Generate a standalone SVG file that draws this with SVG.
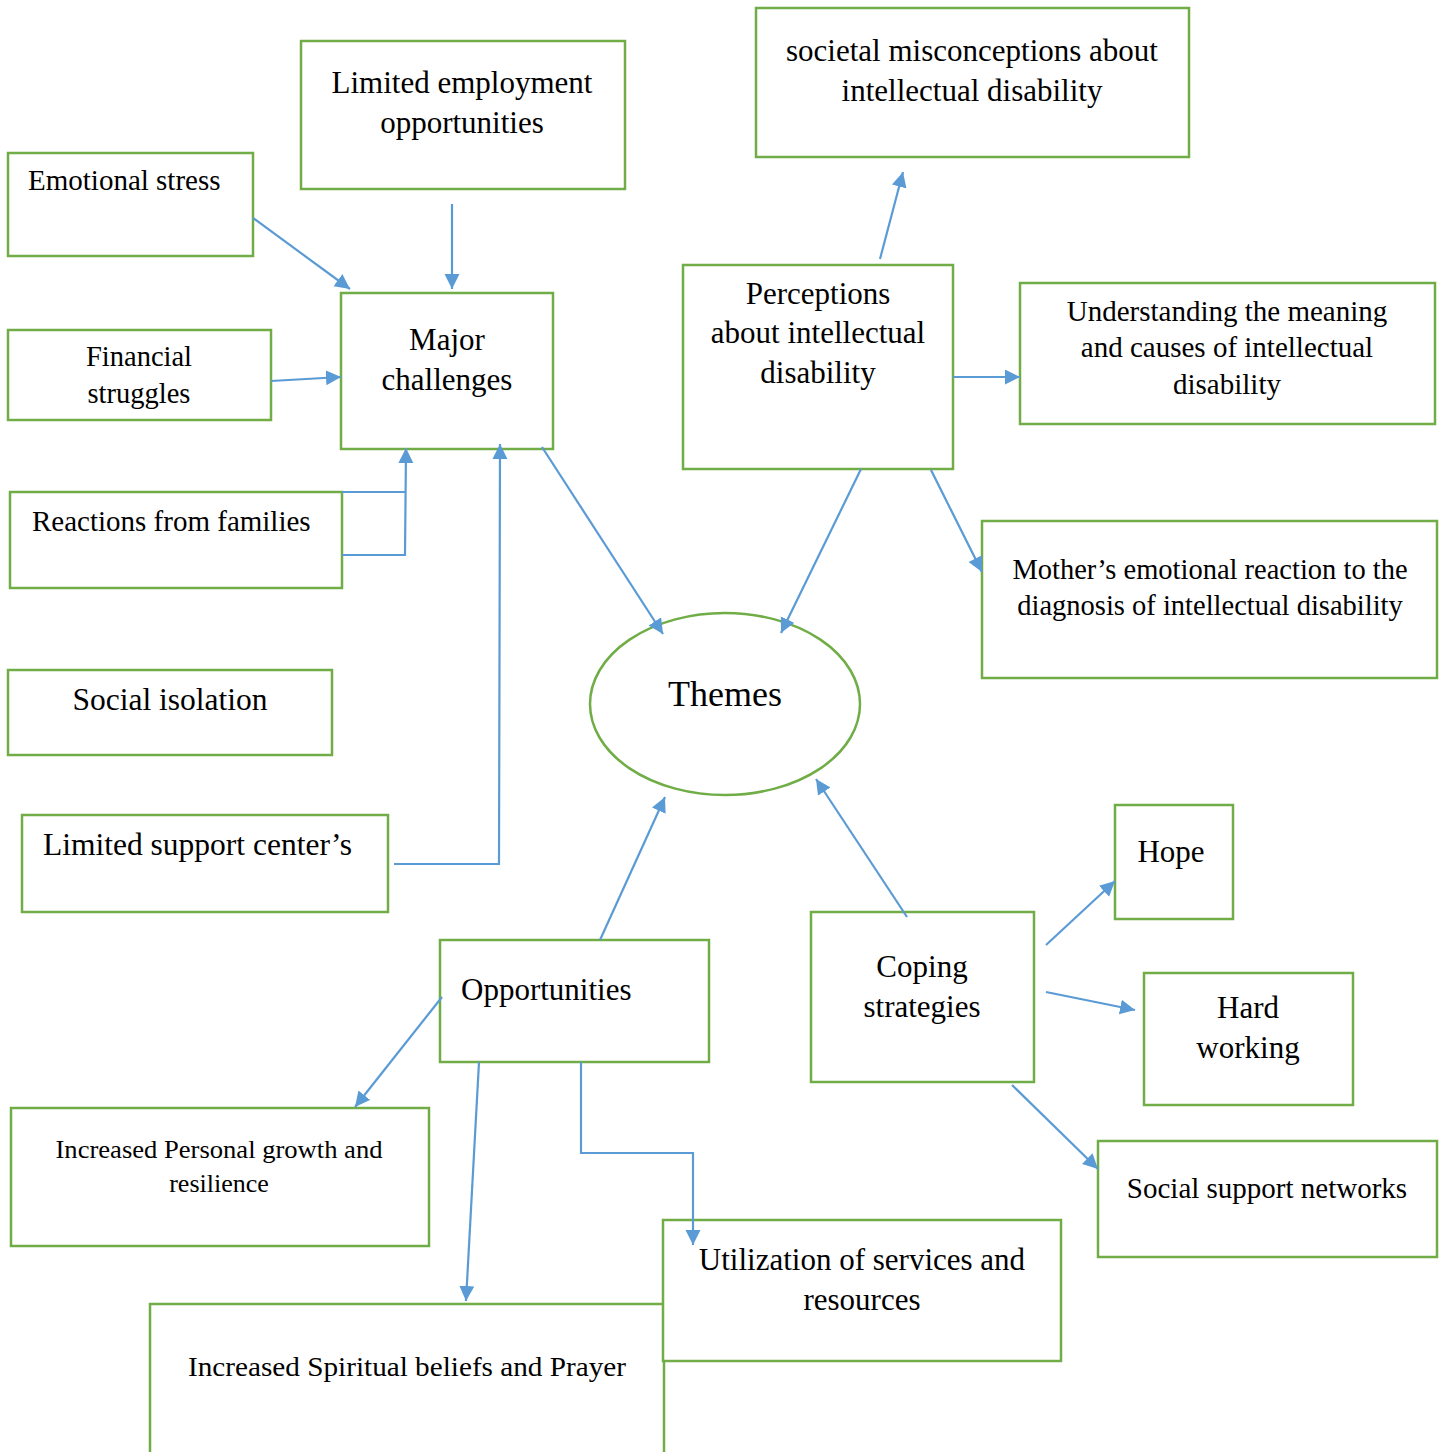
<svg xmlns="http://www.w3.org/2000/svg" width="1443" height="1452" viewBox="0 0 1443 1452">
<style>
.box{fill:#fff;stroke:#70AD47;stroke-width:2.5}
.ell{fill:#fff;stroke:#70AD47;stroke-width:2.5}
.t{font-family:"Liberation Serif","Times New Roman",serif;fill:#000}
.c{text-anchor:middle}
.con{fill:none;stroke:#5B9BD5;stroke-width:2.2}
.arr{marker-end:url(#ah)}
</style>
<defs>
<marker id="ah" markerUnits="userSpaceOnUse" markerWidth="16" markerHeight="16" refX="15" refY="7.5" orient="auto">
<path d="M0,0 L15,7.5 L0,15 z" fill="#5B9BD5"/>
</marker>
</defs>
<rect width="1443" height="1452" fill="#fff"/>

<g id="nodes">
<g id="n-employment"><rect class="box" x="301" y="41" width="324" height="148"/>
<text class="t c" x="462" y="93" font-size="31">Limited employment</text>
<text class="t c" x="462" y="133" font-size="31">opportunities</text></g>

<g id="n-emotional"><rect class="box" x="8" y="153" width="245" height="103"/>
<text class="t" x="28" y="190" font-size="29">Emotional stress</text></g>

<g id="n-financial"><rect class="box" x="8" y="330" width="263" height="90"/>
<text class="t c" x="139" y="366" font-size="28.5">Financial</text>
<text class="t c" x="139" y="403" font-size="28.5">struggles</text></g>

<g id="n-major"><rect class="box" x="341" y="293" width="212" height="156"/>
<text class="t c" x="447" y="350" font-size="31">Major</text>
<text class="t c" x="447" y="390" font-size="31">challenges</text></g>

<g id="n-reactions"><rect class="box" x="10" y="492" width="332" height="96"/>
<text class="t" x="32" y="531" font-size="29">Reactions from families</text></g>

<g id="n-isolation"><rect class="box" x="8" y="670" width="324" height="85"/>
<text class="t c" x="170" y="710" font-size="31.5">Social isolation</text></g>

<g id="n-support-centers"><rect class="box" x="22" y="815" width="366" height="97"/>
<text class="t" x="43" y="855" font-size="31.5">Limited support center’s</text></g>

<g id="n-societal"><rect class="box" x="756" y="8" width="433" height="149"/>
<text class="t c" x="972" y="61" font-size="31">societal misconceptions about</text>
<text class="t c" x="972" y="101" font-size="31">intellectual disability</text></g>

<g id="n-perceptions"><rect class="box" x="683" y="265" width="270" height="204"/>
<text class="t c" x="818" y="304" font-size="31">Perceptions</text>
<text class="t c" x="818" y="343" font-size="31">about intellectual</text>
<text class="t c" x="818" y="383" font-size="31">disability</text></g>

<g id="n-understanding"><rect class="box" x="1020" y="283" width="415" height="141"/>
<text class="t c" x="1227" y="321" font-size="29">Understanding the meaning</text>
<text class="t c" x="1227" y="357" font-size="29">and causes of intellectual</text>
<text class="t c" x="1227" y="394" font-size="29">disability</text></g>

<g id="n-mother"><rect class="box" x="982" y="521" width="455" height="157"/>
<text class="t c" x="1210" y="579" font-size="28.5">Mother’s emotional reaction to the</text>
<text class="t c" x="1210" y="615" font-size="28.5">diagnosis of intellectual disability</text></g>

<g id="n-themes"><ellipse class="ell" cx="725" cy="704" rx="135" ry="91"/>
<text class="t c" x="725" y="706" font-size="36">Themes</text></g>

<g id="n-hope"><rect class="box" x="1115" y="805" width="118" height="114"/>
<text class="t c" x="1171" y="862" font-size="31">Hope</text></g>

<g id="n-hard"><rect class="box" x="1144" y="973" width="209" height="132"/>
<text class="t c" x="1248" y="1018" font-size="31">Hard</text>
<text class="t c" x="1248" y="1058" font-size="31">working</text></g>

<g id="n-coping"><rect class="box" x="811" y="912" width="223" height="170"/>
<text class="t c" x="922" y="977" font-size="31">Coping</text>
<text class="t c" x="922" y="1017" font-size="31">strategies</text></g>

<g id="n-opportunities"><rect class="box" x="440" y="940" width="269" height="122"/>
<text class="t" x="461" y="1000" font-size="31">Opportunities</text></g>

<g id="n-personal"><rect class="box" x="11" y="1108" width="418" height="138"/>
<text class="t c" x="219" y="1158" font-size="26" textLength="327" lengthAdjust="spacingAndGlyphs">Increased Personal growth and</text>
<text class="t c" x="219" y="1192" font-size="26">resilience</text></g>

<g id="n-spiritual"><rect class="box" x="150" y="1304" width="514" height="150"/>
<text class="t c" x="407" y="1376" font-size="27" textLength="438" lengthAdjust="spacingAndGlyphs">Increased Spiritual beliefs and Prayer</text></g>

<g id="n-utilization"><rect class="box" x="663" y="1220" width="398" height="141"/>
<text class="t c" x="862" y="1270" font-size="31">Utilization of services and</text>
<text class="t c" x="862" y="1310" font-size="31">resources</text></g>

<g id="n-social-support"><rect class="box" x="1098" y="1141" width="339" height="116"/>
<text class="t c" x="1267" y="1198" font-size="29">Social support networks</text></g>
</g>

<g id="connectors">
<line class="con arr" x1="253" y1="218" x2="350" y2="289"/>
<line class="con arr" x1="452" y1="204" x2="452" y2="289"/>
<line class="con arr" x1="271" y1="381" x2="341" y2="377"/>
<polyline class="con arr" points="342,555 405,555 406,448"/>
<line class="con" x1="342" y1="492" x2="405" y2="492"/>
<polyline class="con arr" points="394,864 499,864 500,444"/>
<line class="con arr" x1="542" y1="447" x2="663" y2="634"/>
<line class="con arr" x1="861" y1="469" x2="781" y2="633"/>
<line class="con arr" x1="880" y1="259" x2="903" y2="172"/>
<line class="con arr" x1="953" y1="377" x2="1020" y2="377"/>
<line class="con arr" x1="931" y1="470" x2="982" y2="572"/>
<line class="con arr" x1="600" y1="940" x2="665" y2="797"/>
<line class="con arr" x1="907" y1="917" x2="816" y2="779"/>
<line class="con arr" x1="1046" y1="945" x2="1115" y2="881"/>
<line class="con arr" x1="1046" y1="992" x2="1135" y2="1010"/>
<line class="con arr" x1="1012" y1="1085" x2="1098" y2="1169"/>
<line class="con arr" x1="442" y1="997" x2="355" y2="1107"/>
<line class="con arr" x1="479" y1="1062" x2="466" y2="1301"/>
<polyline class="con arr" points="581,1062 581,1153 693,1153 693,1245"/>
</g>
</svg>
